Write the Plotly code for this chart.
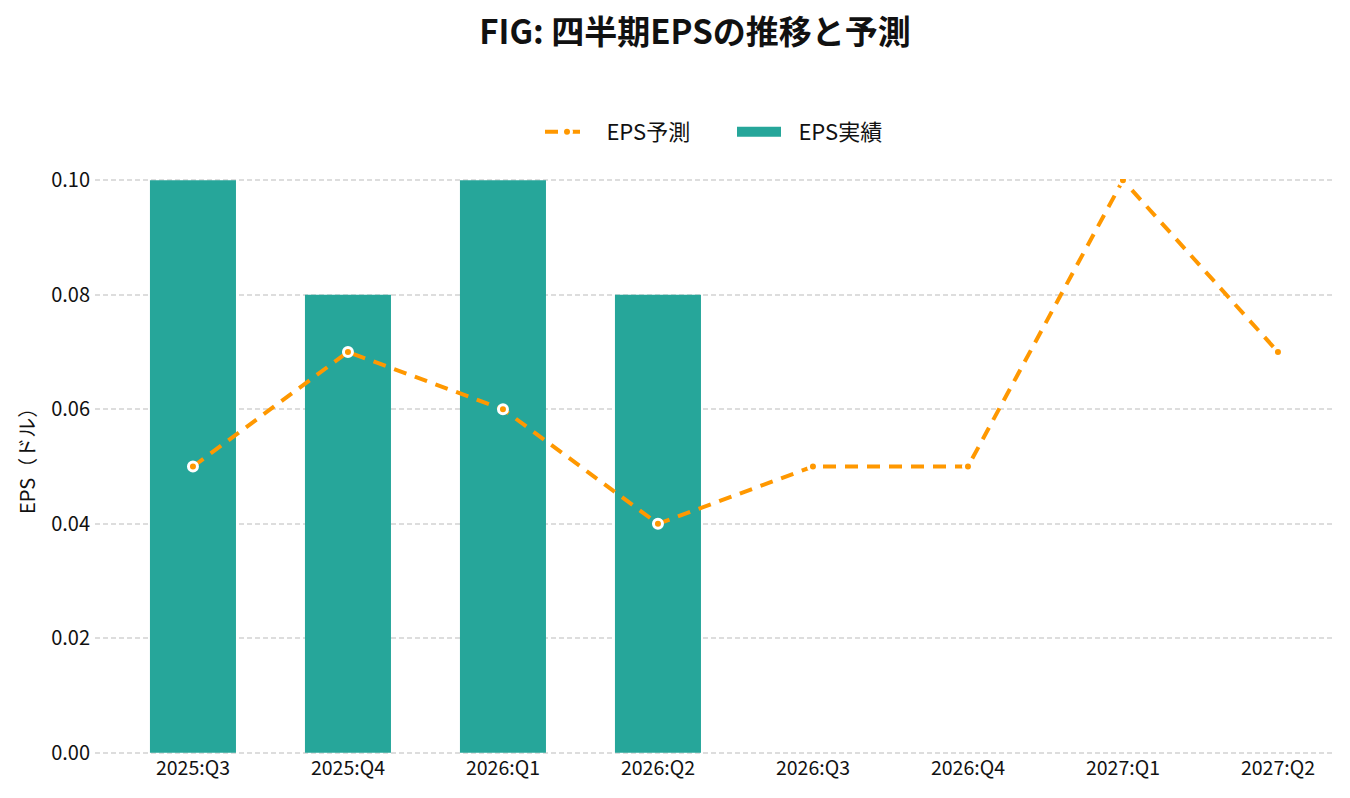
import plotly.graph_objects as go

quarters = ["2025:Q3", "2025:Q4", "2026:Q1", "2026:Q2", "2026:Q3", "2026:Q4", "2027:Q1", "2027:Q2"]
actual_quarters = ["2025:Q3", "2025:Q4", "2026:Q1", "2026:Q2"]
eps_actual = [0.10, 0.08, 0.10, 0.08]
eps_forecast = [0.05, 0.07, 0.06, 0.04, 0.05, 0.05, 0.10, 0.07]
y_ticks = [0.00, 0.02, 0.04, 0.06, 0.08, 0.10]

FONT = "Noto Sans CJK JP"
TEAL = "#26A69A"
ORANGE = "#FF9800"

W, H = 1334, 782
L, R, T, B = 87, 7, 171, 36
PW, PH = W - L - R, H - T - B

fig = go.Figure()
fig.add_trace(go.Bar(
    x=actual_quarters, y=eps_actual, name="EPS実績",
    marker=dict(color=TEAL, line=dict(width=0)),
    width=0.555, showlegend=False,
))
fig.add_trace(go.Scatter(
    x=quarters, y=eps_forecast, name="\u2002\u200aEPS予測", mode="lines+markers",
    line=dict(color=ORANGE, width=4, dash="13px,9px"),
    marker=dict(color=ORANGE, size=9, line=dict(color="white", width=3)),
))
# legend entry for the bars (wide rectangle swatch)
fig.add_trace(go.Scatter(
    x=[None], y=[None], name="\u2002\u200aEPS実績", mode="lines",
    line=dict(color=TEAL, width=17),
))

fig.update_layout(
    width=W, height=H,
    paper_bgcolor="white", plot_bgcolor="white",
    font=dict(family=FONT, size=18, color="#111"),
    title=dict(text="<b>FIG: 四半期EPSの推移と予測</b>", x=687 / W, xanchor="center",
               xref="container", yref="container",
               y=1 - 24 / H, yanchor="middle", font=dict(size=33, family=FONT, color="#111")),
    margin=dict(l=L, r=R, t=T, b=B),
    legend=dict(orientation="h", x=(532 - L) / PW, xanchor="left", y=1 + 47 / PH, yanchor="middle",
                font=dict(size=22, family=FONT), traceorder="normal",
                itemwidth=44, entrywidth=133),
    showlegend=True,
    annotations=[dict(
        text="EPS（ドル）", textangle=-90, showarrow=False,
        xref="paper", yref="paper",
        x=(19 - L) / PW, y=(H - B - 448) / PH, xanchor="center", yanchor="middle",
        font=dict(size=20, family=FONT, color="#111"),
    )],
)
fig.update_xaxes(
    type="category", categoryorder="array", categoryarray=quarters,
    range=[-0.632, 7.368], showgrid=False, showline=False, zeroline=False,
    ticks="", tickfont=dict(size=19.5, family=FONT),
)
fig.update_yaxes(
    range=[-0.0002, 0.1002], tickvals=y_ticks, tickformat=".2f",
    showgrid=True, gridcolor="#dddddd", griddash="5px,3px", gridwidth=1.5,
    zeroline=False, showline=False, ticks="", ticklabelstandoff=4,
    tickfont=dict(size=20, family=FONT),
)

fig.write_html("out.html")
